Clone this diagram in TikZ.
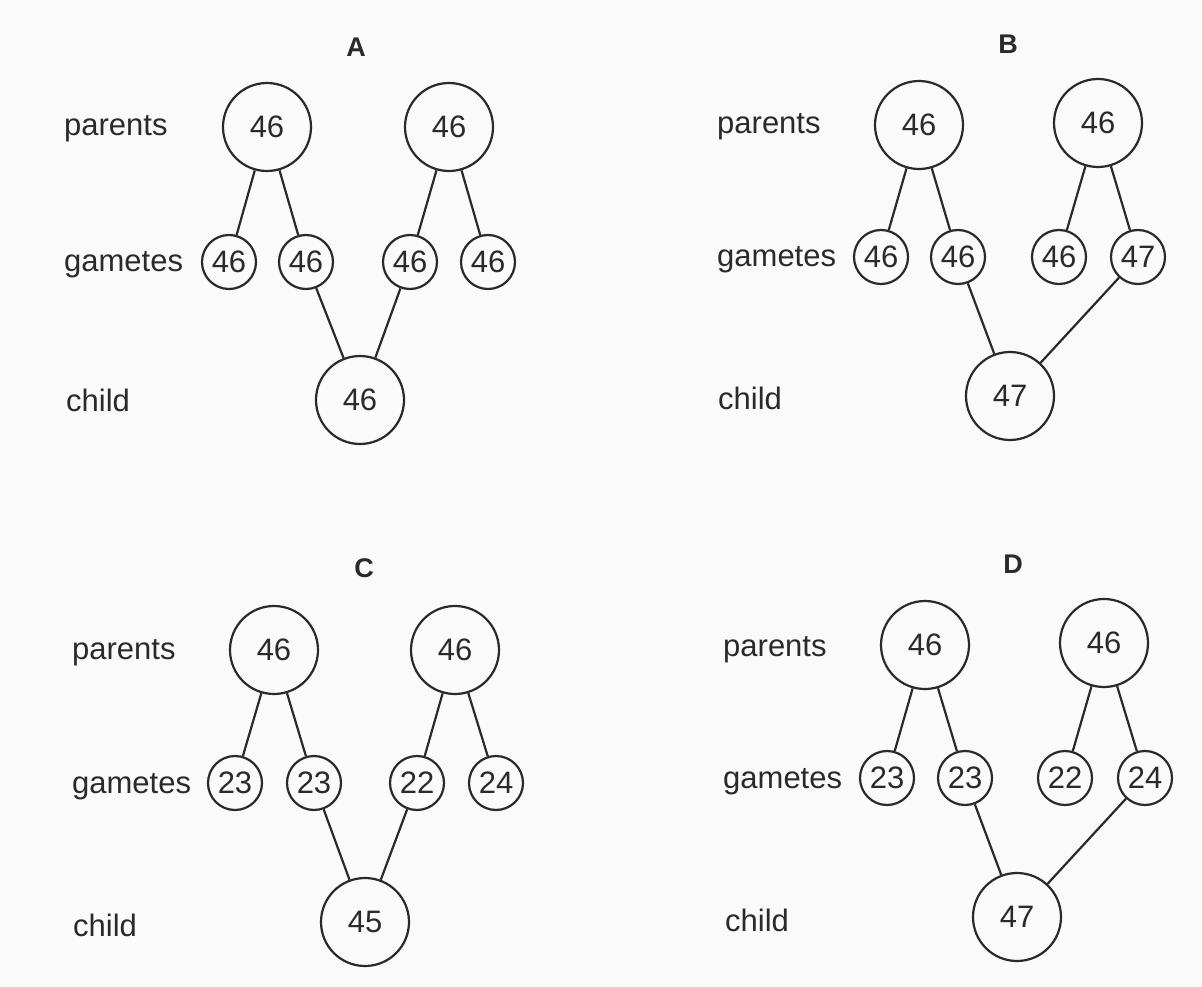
\documentclass[tikz,border=0pt]{standalone}
\usepackage{fontspec}
\setmainfont{Liberation Sans}
\definecolor{ink}{HTML}{2A2A2A}
\definecolor{paper}{HTML}{FAFAFA}
\begin{document}
\begin{tikzpicture}[x=1pt,y=-1pt,
  big/.style={circle,draw=ink,line width=2.2pt,minimum size=88pt,inner sep=0pt,text=ink,font=\fontsize{31}{36}\selectfont},
  small/.style={circle,draw=ink,line width=2.2pt,minimum size=54pt,inner sep=0pt,text=ink,font=\fontsize{31}{36}\selectfont},
  lbl/.style={anchor=base west,inner sep=0pt,text=ink,font=\fontsize{31}{36}\selectfont},
  ttl/.style={inner sep=0pt,text=ink,font=\fontsize{27}{30}\selectfont\bfseries},
  link/.style={draw=ink,line width=2.2pt}]
\fill[paper] (0,0) rectangle (1202,987);
\useasboundingbox (0,0) rectangle (1202,987);

% ---------- Panel A ----------
\node[ttl] (At) at (356,47) {A};
\node[lbl] (Alp) at (64,136) {parents};
\node[lbl] (Alg) at (64,271) {gametes};
\node[lbl] (Alc) at (66,411) {child};
\node[big] (Ap1) at (267,127) {46};
\node[big] (Ap2) at (449,127) {46};
\node[small] (Ag1) at (229,262) {46};
\node[small] (Ag2) at (306,262) {46};
\node[small] (Ag3) at (410,262) {46};
\node[small] (Ag4) at (488,262) {46};
\node[big] (Ac) at (360,400) {46};
\draw[link] (Ap1) -- (Ag1);
\draw[link] (Ap1) -- (Ag2);
\draw[link] (Ap2) -- (Ag3);
\draw[link] (Ap2) -- (Ag4);
\draw[link] (Ag2) -- (Ac);
\draw[link] (Ag3) -- (Ac);

% ---------- Panel B ----------
\node[ttl] (Bt) at (1008,44) {B};
\node[lbl] (Blp) at (717,134) {parents};
\node[lbl] (Blg) at (717,266) {gametes};
\node[lbl] (Blc) at (718,409) {child};
\node[big] (Bp1) at (919,125) {46};
\node[big] (Bp2) at (1098,123) {46};
\node[small] (Bg1) at (881,257) {46};
\node[small] (Bg2) at (958,257) {46};
\node[small] (Bg3) at (1059,257) {46};
\node[small] (Bg4) at (1138,257) {47};
\node[big] (Bc) at (1010,396) {47};
\draw[link] (Bp1) -- (Bg1);
\draw[link] (Bp1) -- (Bg2);
\draw[link] (Bp2) -- (Bg3);
\draw[link] (Bp2) -- (Bg4);
\draw[link] (Bg2) -- (Bc);
\draw[link] (Bg4) -- (Bc);

% ---------- Panel C ----------
\node[ttl] (Ct) at (364,568) {C};
\node[lbl] (Clp) at (72,659) {parents};
\node[lbl] (Clg) at (72,793) {gametes};
\node[lbl] (Clc) at (73,936) {child};
\node[big] (Cp1) at (274,650) {46};
\node[big] (Cp2) at (455,650) {46};
\node[small] (Cg1) at (235,783) {23};
\node[small] (Cg2) at (314,783) {23};
\node[small] (Cg3) at (417,783) {22};
\node[small] (Cg4) at (496,783) {24};
\node[big] (Cc) at (365,922) {45};
\draw[link] (Cp1) -- (Cg1);
\draw[link] (Cp1) -- (Cg2);
\draw[link] (Cp2) -- (Cg3);
\draw[link] (Cp2) -- (Cg4);
\draw[link] (Cg2) -- (Cc);
\draw[link] (Cg3) -- (Cc);

% ---------- Panel D ----------
\node[ttl] (Dt) at (1013,564) {D};
\node[lbl] (Dlp) at (723,656) {parents};
\node[lbl] (Dlg) at (723,788) {gametes};
\node[lbl] (Dlc) at (725,931) {child};
\node[big] (Dp1) at (925,645) {46};
\node[big] (Dp2) at (1104,643) {46};
\node[small] (Dg1) at (887,778) {23};
\node[small] (Dg2) at (965,778) {23};
\node[small] (Dg3) at (1065,778) {22};
\node[small] (Dg4) at (1145,778) {24};
\node[big] (Dc) at (1017,917) {47};
\draw[link] (Dp1) -- (Dg1);
\draw[link] (Dp1) -- (Dg2);
\draw[link] (Dp2) -- (Dg3);
\draw[link] (Dp2) -- (Dg4);
\draw[link] (Dg2) -- (Dc);
\draw[link] (Dg4) -- (Dc);
\end{tikzpicture}
\end{document}
